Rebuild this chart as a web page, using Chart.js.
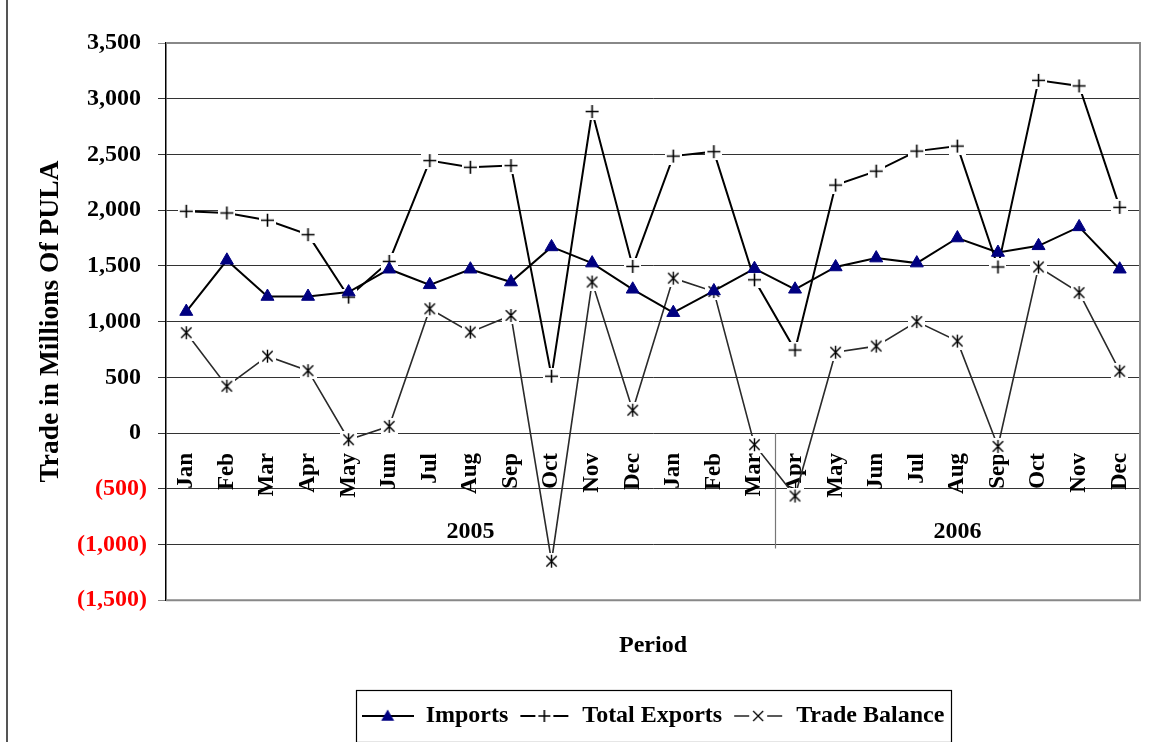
<!DOCTYPE html>
<html>
<head>
<meta charset="utf-8">
<script src="https://cdn.jsdelivr.net/npm/chart.js@4.4.1/dist/chart.umd.min.js"></script>
<style>
html,body{margin:0;padding:0;background:#fff;}
#wrap{width:1149px;height:742px;position:relative;}
</style>
</head>
<body>
<div id="wrap"><canvas id="c" width="1149" height="742"></canvas></div>
<script>
// ---- data ----
const months = ['Jan','Feb','Mar','Apr','May','Jun','Jul','Aug','Sep','Oct','Nov','Dec',
                'Jan','Feb','Mar','Apr','May','Jun','Jul','Aug','Sep','Oct','Nov','Dec'];
const yearLabels = ['2005', '2006'];
const yearCounts = [15, 9];
const imports = [1090, 1550, 1225, 1225, 1265, 1470, 1330, 1470, 1355, 1670, 1525, 1290,
                 1080, 1275, 1475, 1290, 1490, 1570, 1525, 1750, 1620, 1680, 1850, 1470];
const totalExports = [1990, 1975, 1910, 1780, 1220, 1540, 2445, 2385, 2400, 510, 2885, 1495,
                      2485, 2525, 1375, 745, 2225, 2350, 2530, 2575, 1490, 3165, 3115, 2025];
const tradeBalance = [900, 420, 690, 560, -60, 60, 1115, 905, 1055, -1150, 1355, 205,
                      1390, 1270, -105, -565, 725, 780, 1000, 825, -120, 1490, 1260, 555];
const yMin = -1500, yMax = 3500, yStep = 500;
const seriesNames = ['Imports', 'Total Exports', 'Trade Balance'];

const FONT = "'Times New Roman', 'Liberation Serif', serif";

// ---- marker images ----
function mk(w, h, fn) { const c = document.createElement('canvas'); c.width = w; c.height = h; fn(c.getContext('2d'), w, h); return c; }
function drawPlus(g, cx, cy, s) { g.beginPath(); g.moveTo(cx - s, cy); g.lineTo(cx + s, cy); g.moveTo(cx, cy - s); g.lineTo(cx, cy + s); g.stroke(); }
function drawStar(g, cx, cy, s) {
  g.beginPath();
  g.moveTo(cx, cy - s); g.lineTo(cx, cy + s);
  const d = s * 0.8;
  g.moveTo(cx - d, cy - d); g.lineTo(cx + d, cy + d);
  g.moveTo(cx + d, cy - d); g.lineTo(cx - d, cy + d);
  g.stroke();
}
function drawTri(g, cx, cy, r) {
  g.beginPath();
  g.moveTo(cx, cy - r);
  g.lineTo(cx + r * 0.866, cy + r * 0.5);
  g.lineTo(cx - r * 0.866, cy + r * 0.5);
  g.closePath(); g.fill();
}
const plusImg = mk(17, 17, (g, w, h) => { g.fillStyle = '#fff'; g.fillRect(0, 0, w, h); g.strokeStyle = '#000'; g.lineWidth = 1.6; drawPlus(g, 8.5, 8.5, 6.5); });
const starImg = mk(17, 17, (g, w, h) => { g.fillStyle = '#fff'; g.fillRect(0, 0, w, h); g.strokeStyle = '#000'; g.lineWidth = 1.4; drawStar(g, 8.5, 8.5, 6.5); });

const legImports = mk(52, 20, (g, w, h) => {
  g.strokeStyle = '#000'; g.lineWidth = 2; g.beginPath(); g.moveTo(0, 10); g.lineTo(w, 10); g.stroke();
  g.fillStyle = '#000080'; drawTri(g, w / 2, 11, 7.5);
});
const legExports = mk(52, 20, (g, w, h) => {
  g.strokeStyle = '#000'; g.lineWidth = 2; g.beginPath(); g.moveTo(2, 10); g.lineTo(w - 2, 10); g.stroke();
  g.fillStyle = '#fff'; g.fillRect(w / 2 - 9, 2, 18, 16);
  g.lineWidth = 1.6; drawPlus(g, w / 2, 10, 6);
});
const legBalance = mk(52, 20, (g, w, h) => {
  g.strokeStyle = '#222'; g.lineWidth = 1.6; g.beginPath(); g.moveTo(2, 10); g.lineTo(w - 2, 10); g.stroke();
  g.fillStyle = '#fff'; g.fillRect(w / 2 - 9, 2, 18, 16);
  g.strokeStyle = '#000'; g.lineWidth = 1.3;
  g.beginPath(); g.moveTo(w/2 - 5, 5); g.lineTo(w/2 + 5, 15); g.moveTo(w/2 + 5, 5); g.lineTo(w/2 - 5, 15); g.stroke();
});
const legendImgs = [legImports, legExports, legBalance];

// ---- decorations plugin ----
const decor = {
  id: 'decor',
  beforeDatasetsDraw(chart) {
    const { ctx, chartArea: a, scales: { x, y } } = chart;
    ctx.save();
    ctx.fillStyle = '#555';
    ctx.fillRect(6, 0, 2, chart.height);
    ctx.strokeStyle = '#888';
    ctx.lineWidth = 2;
    ctx.beginPath();
    ctx.moveTo(a.left, a.top); ctx.lineTo(a.right, a.top); ctx.lineTo(a.right, a.bottom); ctx.lineTo(a.left, a.bottom);
    ctx.stroke();
    const y0 = y.getPixelForValue(0);
    const yG = y.getPixelForValue(-1000);
    let start = 0;
    ctx.lineWidth = 1.2;
    ctx.strokeStyle = '#777';
    ctx.fillStyle = '#000';
    ctx.font = 'bold 24px ' + FONT;
    ctx.textAlign = 'center';
    ctx.textBaseline = 'middle';
    yearLabels.forEach((lab, i) => {
      const end = start + yearCounts[i] - 1;
      const cx = (x.getPixelForValue(start) + x.getPixelForValue(end)) / 2;
      ctx.fillText(lab, cx, yG - 13);
      if (i < yearLabels.length - 1) {
        const sx = Math.round((x.getPixelForValue(end) + x.getPixelForValue(end + 1)) / 2) + 0.5;
        ctx.beginPath(); ctx.moveTo(sx, y0); ctx.lineTo(sx, yG + 4); ctx.stroke();
      }
      start = end + 1;
    });
    ctx.restore();
  },
  afterDraw(chart) {
    const hb = chart.legend && chart.legend.legendHitBoxes;
    if (!hb || !hb.length) return;
    const l = Math.min(...hb.map(b => b.left)) - 6;
    const r = Math.max(...hb.map(b => b.left + b.width)) + 6;
    const t = Math.min(...hb.map(b => b.top)) - 14;
    const btm = Math.max(...hb.map(b => b.top + b.height)) + 14;
    const ctx = chart.ctx;
    ctx.save();
    ctx.strokeStyle = '#000';
    ctx.lineWidth = 1.2;
    ctx.strokeRect(Math.round(l) + 0.5, Math.round(t) + 0.5, Math.round(r - l), Math.round(btm - t));
    ctx.restore();
  }
};

const yTickFmt = v => {
  const s = Math.abs(v).toLocaleString('en-US');
  return v < 0 ? '(' + s + ')' : s + ' ';
};

new Chart(document.getElementById('c'), {
  type: 'line',
  data: {
    labels: months,
    datasets: [
      {
        label: seriesNames[0], data: imports,
        borderColor: '#000', borderWidth: 2, tension: 0,
        pointStyle: 'triangle', pointRadius: 7.5, pointBackgroundColor: '#000080', pointBorderColor: '#000080', pointBorderWidth: 1
      },
      {
        label: seriesNames[1], data: totalExports,
        borderColor: '#000', borderWidth: 2, tension: 0,
        pointStyle: plusImg, pointRadius: 7
      },
      {
        label: seriesNames[2], data: tradeBalance,
        borderColor: '#2a2a2a', borderWidth: 1.6, tension: 0,
        pointStyle: starImg, pointRadius: 7
      }
    ]
  },
  options: {
    responsive: false,
    animation: false,
    devicePixelRatio: 1,
    layout: { padding: { top: 43, right: 7, bottom: 4, left: 0 } },
    scales: {
      x: {
        type: 'category',
        position: { y: 0 },
        offset: true,
        afterFit(scale) { scale.paddingLeft = 0; scale.paddingRight = 0; },
        grid: { display: false, drawTicks: false },
        border: { display: false },
        ticks: {
          autoSkip: false, minRotation: 90, maxRotation: 90, padding: 20,
          color: '#000', font: { family: FONT, size: 23, weight: 'bold' }
        }
      },
      y: {
        min: yMin, max: yMax,
        afterFit(scale) { scale.width = 166; },
        grid: {
          color: c => (c.tick && (c.tick.value === yMax || c.tick.value === yMin)) ? '#888' : '#333',
          lineWidth: 1, tickLength: 8, drawTicks: true
        },
        border: { display: true, color: '#000', width: 1.5 },
        ticks: {
          stepSize: yStep, padding: 11,
          callback: yTickFmt,
          color: c => c.tick.value < 0 ? '#ff0000' : '#000',
          font: { family: FONT, size: 24, weight: 'bold' }
        },
        title: {
          display: true, text: 'Trade in Millions Of PULA', color: '#000',
          font: { family: FONT, size: 27.5, weight: 'bold' },
          padding: { top: 34, bottom: 0 }
        }
      }
    },
    plugins: {
      title: {
        display: true, text: 'Period', position: 'bottom', weight: 500, fullSize: false,
        color: '#000', font: { family: FONT, size: 24, weight: 'bold' },
        padding: { top: 31, bottom: 34 }
      },
      legend: {
        position: 'bottom', fullSize: false,
        labels: {
          usePointStyle: true, pointStyleWidth: 52, padding: 10,
          color: '#000', font: { family: FONT, size: 24, weight: 'bold' },
          generateLabels(chart) {
            const items = Chart.defaults.plugins.legend.labels.generateLabels(chart);
            items.forEach((it, i) => { it.pointStyle = legendImgs[i]; });
            return items;
          }
        }
      },
      tooltip: { enabled: false }
    }
  },
  plugins: [decor]
});
</script>
</body>
</html>
